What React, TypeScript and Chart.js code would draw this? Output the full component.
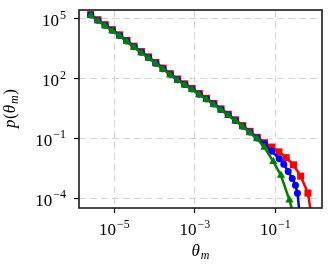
import React, { useEffect, useRef } from "react";
import { Chart, registerables } from "chart.js";

Chart.register(...registerables);

// log10 of theta_m (bin centres) and log10 of p(theta_m)
const redLogTheta = [
  -5.59, -5.41, -5.23, -5.05, -4.87, -4.69, -4.51, -4.33, -4.15, -3.97, -3.79,
  -3.61, -3.43, -3.25, -3.07, -2.89, -2.71, -2.53, -2.35, -2.17, -1.99, -1.81,
  -1.63, -1.45, -1.27, -1.09, -0.91, -0.73, -0.55, -0.37, -0.19, -0.11,
];
const redLogP = [
  5.23, 4.96, 4.71, 4.46, 4.2, 3.92, 3.63, 3.36, 3.09, 2.81, 2.53, 2.25, 1.98,
  1.74, 1.51, 1.25, 1.01, 0.75, 0.48, 0.21, -0.07, -0.36, -0.65, -0.95, -1.22,
  -1.44, -1.68, -1.97, -2.33, -2.9, -3.75, -4.8,
];

const blueLogTheta = [
  -5.59, -5.41, -5.23, -5.05, -4.87, -4.69, -4.51, -4.33, -4.15, -3.97, -3.79,
  -3.61, -3.43, -3.25, -3.07, -2.89, -2.71, -2.53, -2.35, -2.17, -1.99, -1.81,
  -1.63, -1.45, -1.27, -1.09, -0.9, -0.79, -0.68, -0.58, -0.5, -0.45, -0.4,
];
const blueLogP = [
  5.2, 4.93, 4.68, 4.43, 4.17, 3.89, 3.6, 3.33, 3.06, 2.78, 2.5, 2.22, 1.95,
  1.71, 1.48, 1.22, 0.98, 0.72, 0.45, 0.18, -0.1, -0.39, -0.68, -0.98, -1.28,
  -1.65, -2.02, -2.3, -2.66, -3.02, -3.36, -3.76, -4.7,
];

const greenLogTheta = [
  -5.59, -5.41, -5.23, -5.05, -4.87, -4.69, -4.51, -4.33, -4.15, -3.97, -3.79,
  -3.61, -3.43, -3.25, -3.07, -2.89, -2.71, -2.53, -2.35, -2.17, -1.99, -1.81,
  -1.63, -1.45, -1.27, -1.05, -0.86, -0.65, -0.55,
];
const greenLogP = [
  5.17, 4.9, 4.65, 4.4, 4.14, 3.86, 3.57, 3.3, 3.03, 2.75, 2.47, 2.19, 1.92,
  1.68, 1.45, 1.19, 0.95, 0.69, 0.42, 0.15, -0.13, -0.42, -0.72, -1.03, -1.45,
  -2.17, -2.86, -4.1, -4.8,
];

const xTickExps = [-5, -3, -1];
const yTickExps = [5, 2, -1, -4];
const xRangeExp = [-5.88, 0.16];
const yRangeExp = [-4.5, 5.45];

const toPoints = (lx: number[], ly: number[]) =>
  lx.map((v, i) => ({ x: Math.pow(10, v), y: Math.pow(10, ly[i]) }));

const SERIF = "'Liberation Serif', 'DejaVu Serif', serif";
const MINUS = "\u2212";

const expText = (e: number) => (e < 0 ? MINUS + String(-e) : String(e));

const labelsPlugin = {
  id: "labels",
  afterDraw(chart: any) {
    const ctx = chart.ctx as CanvasRenderingContext2D;
    const { left, right, top, bottom } = chart.chartArea;
    const xs = chart.scales.x;
    const ys = chart.scales.y;
    ctx.save();
    // frame
    ctx.strokeStyle = "#1a1a1a";
    ctx.lineWidth = 1.6;
    ctx.strokeRect(left, top, right - left, bottom - top);

    ctx.fillStyle = "#000";
    ctx.textBaseline = "alphabetic";
    const big = `17px ${SERIF}`;
    const small = `12px ${SERIF}`;
    // x tick labels
    xTickExps.forEach((e) => {
      const px = xs.getPixelForValue(Math.pow(10, e));
      ctx.font = big;
      const w1 = ctx.measureText("10").width;
      ctx.font = small;
      const w2 = ctx.measureText(expText(e)).width + 1;
      const start = px - (w1 + w2) / 2;
      ctx.font = big;
      ctx.textAlign = "left";
      ctx.fillText("10", start, bottom + 27);
      ctx.font = small;
      ctx.fillText(expText(e), start + w1 + 1, bottom + 20);
    });
    // y tick labels
    yTickExps.forEach((e) => {
      const py = ys.getPixelForValue(Math.pow(10, e));
      ctx.font = small;
      const w2 = ctx.measureText(expText(e)).width;
      const rightEdge = left - 13;
      ctx.textAlign = "left";
      ctx.fillText(expText(e), rightEdge - w2, py);
      ctx.font = big;
      const w1 = ctx.measureText("10").width;
      ctx.fillText("10", rightEdge - w2 - 1 - w1, py + 7.5);
    });
    // x title
    const itBig = `italic 17px ${SERIF}`;
    const itSmall = `italic 12px ${SERIF}`;
    ctx.font = itBig;
    const tw = ctx.measureText("\u03b8").width;
    ctx.font = itSmall;
    const mw = ctx.measureText("m").width;
    const cx = (left + right) / 2;
    const sx = cx - (tw + mw + 1) / 2;
    ctx.font = itBig;
    ctx.fillText("\u03b8", sx, bottom + 48);
    ctx.font = itSmall;
    ctx.fillText("m", sx + tw + 1, bottom + 51);

    // y title, rotated
    ctx.save();
    ctx.translate(15, (top + bottom) / 2);
    ctx.rotate(-Math.PI / 2);
    ctx.font = itBig;
    const a = "p(\u03b8";
    const aw = ctx.measureText(a).width;
    ctx.font = itSmall;
    const bw = ctx.measureText("m").width;
    ctx.font = `17px ${SERIF}`;
    const cw = ctx.measureText(")").width;
    const total = aw + bw + cw + 1;
    const ox = -total / 2;
    ctx.font = itBig;
    ctx.fillText("p", ox, 0);
    const pw = ctx.measureText("p").width;
    ctx.font = `17px ${SERIF}`;
    ctx.fillText("(", ox + pw + 0.5, 0);
    const lw = ctx.measureText("(").width;
    ctx.font = itBig;
    ctx.fillText("\u03b8", ox + pw + lw + 0.5, 0);
    ctx.font = itSmall;
    ctx.fillText("m", ox + aw + 1.5, 3);
    ctx.font = `17px ${SERIF}`;
    ctx.fillText(")", ox + aw + bw + 2, 0);
    ctx.restore();

    ctx.restore();
  },
};

export default function App() {
  const ref = useRef<HTMLCanvasElement | null>(null);
  useEffect(() => {
    if (!ref.current) return;
    const mk = (
      label: string,
      lx: number[],
      ly: number[],
      color: string,
      style: string,
      r: number,
      order: number
    ) => {
      const last = lx.length - 1;
      return {
        label,
        data: toPoints(lx, ly),
        showLine: true,
        borderColor: color,
        backgroundColor: color,
        borderWidth: 2.5,
        pointStyle: style,
        pointRadius: (c: any) => (c.dataIndex === last ? 0 : r),
        pointBorderWidth: 0,
        pointBackgroundColor: color,
        order,
      };
    };
    const chart = new Chart(ref.current, {
      type: "scatter",
      data: {
        datasets: [
          mk("red", redLogTheta, redLogP, "#ff0000", "rect", 5.0, 3),
          mk("blue", blueLogTheta, blueLogP, "#0000ff", "circle", 3.5, 2),
          mk("green", greenLogTheta, greenLogP, "#008000", "triangle", 4.8, 1),
        ] as any,
      },
      options: {
        animation: false,
        responsive: true,
        maintainAspectRatio: false,
        layout: { padding: { top: 10, right: 10, left: 0, bottom: 0 } },
        plugins: { legend: { display: false }, tooltip: { enabled: false } },
        scales: {
          x: {
            type: "logarithmic",
            min: Math.pow(10, xRangeExp[0]),
            max: Math.pow(10, xRangeExp[1]),
            afterBuildTicks: (s: any) => {
              s.ticks = xTickExps.map((e) => ({ value: Math.pow(10, e) }));
            },
            afterFit: (s: any) => {
              s.height = 58;
            },
            ticks: { display: false },
            grid: {
              color: "#d4d4d4",
              lineWidth: 1,
              tickColor: "#000",
              tickLength: 5,
              tickWidth: 1.2,
            },
            border: { display: false, dash: [7, 4] },
          },
          y: {
            type: "logarithmic",
            min: Math.pow(10, yRangeExp[0]),
            max: Math.pow(10, yRangeExp[1]),
            afterBuildTicks: (s: any) => {
              s.ticks = yTickExps.map((e) => ({ value: Math.pow(10, e) }));
            },
            afterFit: (s: any) => {
              s.width = 79;
            },
            ticks: { display: false },
            grid: {
              color: "#d4d4d4",
              lineWidth: 1,
              tickColor: "#000",
              tickLength: 5,
              tickWidth: 1.2,
            },
            border: { display: false, dash: [7, 4] },
          },
        },
      } as any,
      plugins: [labelsPlugin],
    });
    return () => chart.destroy();
  }, []);
  return (
    <div style={{ position: "fixed", left: 0, top: 0, width: 332, height: 266, background: "#fff" }}>
      <canvas ref={ref} />
    </div>
  );
}
